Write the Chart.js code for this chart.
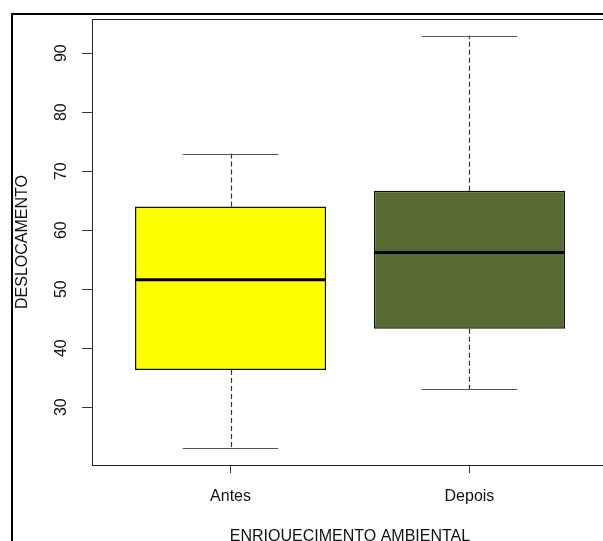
<!DOCTYPE html>
<html>
<head>
<meta charset="utf-8">
<script src="https://cdn.jsdelivr.net/npm/chart.js@4.4.1/dist/chart.umd.min.js"></script>
<style>
  html, body { margin: 0; padding: 0; background: #fff; overflow: hidden; }
  canvas { display: block; }
</style>
</head>
<body>
<canvas id="box" width="625" height="560"></canvas>
<script>
// boxplot data
const categories = ['Antes', 'Depois'];
const xPos = [1, 2];
const boxColors = ['#ffff00', '#556b2f'];
const whiskerLow = [23, 33];
const q1 = [36.3, 43.3];
const median = [51.6, 56.2];
const q3 = [64, 66.7];
const whiskerHigh = [73, 93];
const yTicks = [30, 40, 50, 60, 70, 80, 90];

const font = "'Liberation Sans', Arial, sans-serif";

// outer figure frame + plot box + whiskers + y labels
const boxPlugin = {
  id: 'boxPlugin',
  beforeDraw(chart) {
    const c = chart.ctx;
    c.save();
    c.strokeStyle = '#000';
    c.lineWidth = 2;
    c.beginPath();
    c.moveTo(12, chart.height);
    c.lineTo(12, 14);
    c.lineTo(chart.width, 14);
    c.stroke();
    c.restore();
  },
  afterDatasetsDraw(chart) {
    const c = chart.ctx;
    const x = chart.scales.x, y = chart.scales.y;
    c.save();
    xPos.forEach((p, i) => {
      const cx = Math.round(x.getPixelForValue(p)) + 0.5;
      const capL = x.getPixelForValue(p - 0.2), capR = x.getPixelForValue(p + 0.2);
      // dashed whiskers
      c.strokeStyle = '#333';
      c.lineWidth = 1.2;
      c.setLineDash([5, 3]);
      c.beginPath();
      c.moveTo(cx, y.getPixelForValue(q3[i]));
      c.lineTo(cx, y.getPixelForValue(whiskerHigh[i]));
      c.moveTo(cx, y.getPixelForValue(q1[i]));
      c.lineTo(cx, y.getPixelForValue(whiskerLow[i]));
      c.stroke();
      c.setLineDash([]);
      // caps
      c.strokeStyle = '#555';
      c.lineWidth = 1;
      c.beginPath();
      const yh = Math.round(y.getPixelForValue(whiskerHigh[i])) + 0.5;
      const yl = Math.round(y.getPixelForValue(whiskerLow[i])) + 0.5;
      c.moveTo(capL, yh); c.lineTo(capR, yh);
      c.moveTo(capL, yl); c.lineTo(capR, yl);
      c.stroke();
      // median
      const half = 0.4;
      c.strokeStyle = '#000';
      c.lineWidth = 3;
      c.beginPath();
      const ym = y.getPixelForValue(median[i]);
      c.moveTo(x.getPixelForValue(p - half), ym);
      c.lineTo(x.getPixelForValue(p + half), ym);
      c.stroke();
    });
    // plot box
    const a = chart.chartArea;
    c.strokeStyle = '#222';
    c.lineWidth = 1;
    c.strokeRect(Math.round(a.left) + 0.5, Math.round(a.top) + 0.5,
      Math.round(a.right - a.left), Math.round(a.bottom - a.top));
    // y tick labels, parallel to the axis
    c.fillStyle = '#111';
    c.font = '16px ' + font;
    c.textAlign = 'center';
    c.textBaseline = 'middle';
    yTicks.forEach(v => {
      c.save();
      c.translate(62, y.getPixelForValue(v));
      c.rotate(-Math.PI / 2);
      c.fillText(String(v), 0, 0);
      c.restore();
    });
    c.restore();
  }
};

new Chart(document.getElementById('box'), {
  type: 'bar',
  data: {
    datasets: [{
      data: xPos.map((p, i) => ({ x: p, y: [q1[i], q3[i]] })),
      backgroundColor: boxColors,
      borderColor: '#111',
      borderWidth: 1.5,
      borderSkipped: false,
      barPercentage: 0.8,
      categoryPercentage: 1
    }]
  },
  options: {
    responsive: false,
    animation: false,
    layout: { padding: { left: 0, top: 19, right: 17, bottom: 0 } },
    plugins: { legend: { display: false }, tooltip: { enabled: false } },
    scales: {
      x: {
        type: 'linear',
        min: 0.42,
        max: 2.58,
        offset: false,
        afterBuildTicks: s => { s.ticks = xPos.map(v => ({ value: v })); },
        afterFit: s => { s.height = 95; },
        grid: { drawOnChartArea: false, offset: false, tickLength: 8, color: '#333' },
        border: { color: '#222' },
        ticks: {
          autoSkip: false,
          maxRotation: 0,
          padding: 14,
          color: '#111',
          font: { family: font, size: 16 },
          callback: (v) => categories[xPos.indexOf(v)] || ''
        },
        title: {
          display: true,
          text: 'ENRIQUECIMENTO AMBIENTAL',
          color: '#111',
          font: { family: font, size: 16 },
          padding: { top: 0, bottom: 14 }
        }
      },
      y: {
        min: 20.2,
        max: 95.8,
        afterBuildTicks: s => { s.ticks = yTicks.map(v => ({ value: v })); },
        afterFit: s => { s.width = 92; },
        grid: { drawOnChartArea: false, tickLength: 10, color: '#333' },
        border: { color: '#222' },
        ticks: { display: false },
        title: {
          display: true,
          text: 'DESLOCAMENTO',
          color: '#111',
          font: { family: font, size: 16 },
          padding: { top: 13, bottom: 0 }
        }
      }
    }
  },
  plugins: [boxPlugin]
});
</script>
</body>
</html>
